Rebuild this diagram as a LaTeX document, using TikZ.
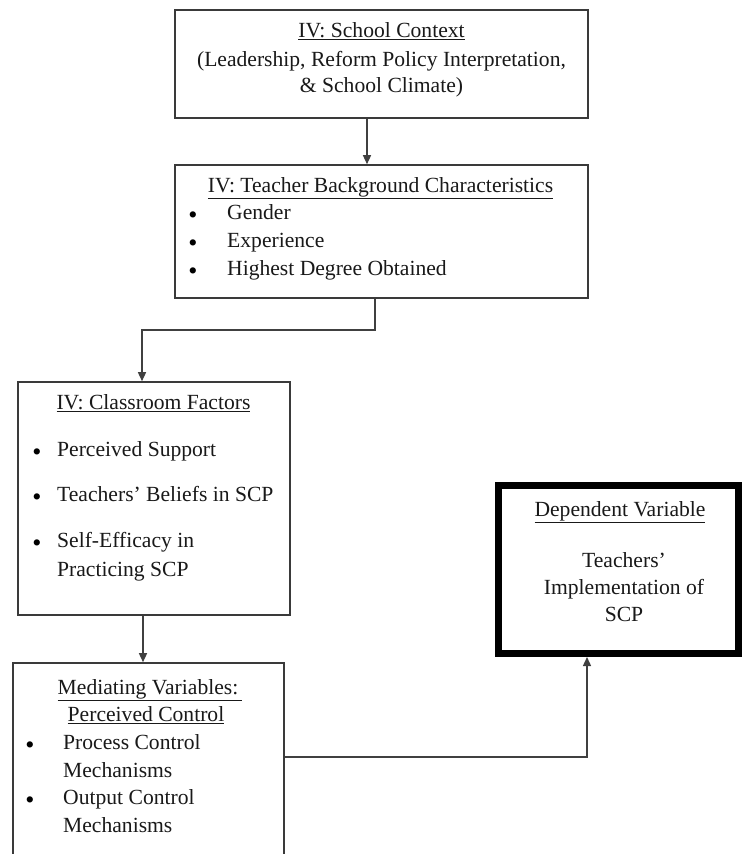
\documentclass[tikz,border=0pt]{standalone}
\usepackage{fontspec}
\setmainfont{Liberation Serif}
\usetikzlibrary{arrows.meta}
\definecolor{edge}{HTML}{3A3A3A}
\definecolor{wire}{HTML}{404040}
\begin{document}
\begin{tikzpicture}[x=1pt,y=-1pt,
  box/.style={draw=edge, line width=1.6pt, inner sep=0pt},
  outcome/.style={draw=black, line width=7pt, inner sep=0pt},
  txt/.style={font=\fontsize{21.6pt}{27pt}\selectfont, inner sep=0pt, text=black!90},
  dot/.style={inner sep=0pt, font=\fontsize{26pt}{30pt}\selectfont, text=black, anchor=center, yshift=-1pt},
  item/.style={txt, anchor=mid west},
  head/.style={txt, anchor=mid},
  arr/.style={draw=wire, line width=1.4pt, -{Triangle[length=9pt,width=8pt]}}
]
\useasboundingbox (0,0) rectangle (742,854);
\fill[white] (0,0) rectangle (742,854);

% boxes
\node[box, minimum width=413pt, minimum height=108pt] (ctx) at (381.5,64) {};
\node[box, minimum width=413pt, minimum height=133pt] (bg) at (381.5,231.5) {};
\node[box, minimum width=272pt, minimum height=233pt] (cls) at (154,498.5) {};
\node[box, minimum width=271pt, minimum height=207pt] (med) at (148.5,766.5) {};
\node[outcome, minimum width=240pt, minimum height=168pt] (dep) at (618,569.5) {};

% school context
\node[head] (ctxA) at (381.5,35) {\underline{IV: School Context}};
\node[head] (ctxB) at (381.5,64) {(Leadership, Reform Policy Interpretation,};
\node[head] (ctxC) at (381.5,90) {\& School Climate)};

% teacher background
\node[head] (bgA) at (380.5,190) {\underline{IV: Teacher Background Characteristics}};
\node[dot] (bgd1) at (193,217) {•};
\node[dot] (bgd2) at (193,245) {•};
\node[dot] (bgd3) at (193,273) {•};
\node[item] (bgi1) at (227,217) {Gender};
\node[item] (bgi2) at (227,245) {Experience};
\node[item] (bgi3) at (227,273) {Highest Degree Obtained};

% classroom factors
\node[head] (clsA) at (153.5,407) {\underline{IV: Classroom Factors}};
\node[dot] (clsd1) at (37,454) {•};
\node[dot] (clsd2) at (37,499) {•};
\node[dot] (clsd3) at (37,545) {•};
\node[item] (clsi1) at (57,454) {Perceived Support};
\node[item] (clsi2) at (57,499) {Teachers’ Beliefs in SCP};
\node[item] (clsi3) at (57,545) {Self-Efficacy in};
\node[item] (clsi4) at (57,574) {Practicing SCP};

% mediating variables
\node[head] (medA) at (150,692) {\underline{Mediating Variables:\kern4pt}};
\node[head] (medB) at (146,719) {\underline{Perceived Control}};
\node[dot] (medd1) at (30,747) {•};
\node[dot] (medd2) at (30,802) {•};
\node[item] (medi1) at (63,747) {Process Control};
\node[item] (medi2) at (63,775) {Mechanisms};
\node[item] (medi3) at (63,802) {Output Control};
\node[item] (medi4) at (63,830) {Mechanisms};

% dependent variable
\node[head] (depA) at (620,514) {\underline{Dependent Variable}};
\node[head] (depB) at (624,565) {Teachers’};
\node[head] (depC) at (624,592) {Implementation of};
\node[head] (depD) at (624,619) {SCP};

% connectors
\coordinate (c1) at (367,0);
\coordinate (k1) at (375,330);
\coordinate (k2) at (142,330);
\coordinate (c3) at (143,0);
\coordinate (j1) at (587,757);

\draw[arr] (ctx.south -| c1) -- (bg.north -| c1);
\draw[arr] (bg.south -| k1) -- (k1) -- (k2) -- (cls.north -| k2);
\draw[arr] (cls.south -| c3) -- (med.north -| c3);
\draw[arr] (med.east |- j1) -- (j1) -- (dep.south -| j1);
\end{tikzpicture}
\end{document}
